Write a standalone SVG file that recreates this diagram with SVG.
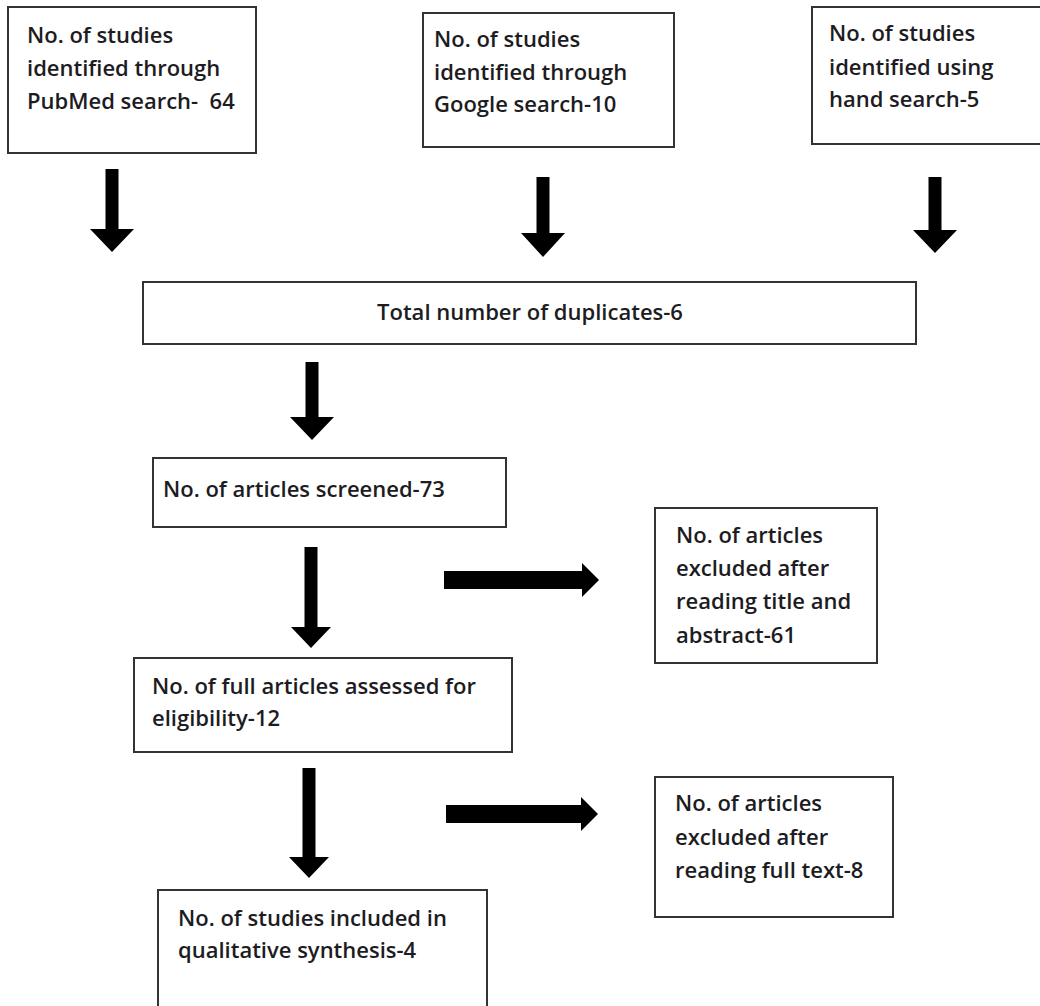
<svg xmlns="http://www.w3.org/2000/svg" width="1040" height="1006" viewBox="0 0 1040 1006">
<style>
.box{fill:#ffffff;stroke:#333333;stroke-width:2}
.t{font-family:"Open Sans","Liberation Sans",sans-serif;font-size:22px;font-weight:600;fill:#1c1c22}
.arrow{fill:#000000}
</style>
<rect x="0" y="0" width="1040" height="1006" fill="#ffffff"/>
<g id="pubmed">
<rect class="box" x="8" y="7" width="248" height="146"/>
<text class="t" x="27" y="43">No. of studies</text>
<text class="t" x="27" y="76">identified through</text>
<text class="t" x="27" y="109">PubMed search-&#160; 64</text>
</g>
<g id="google">
<rect class="box" x="423" y="13" width="251" height="134"/>
<text class="t" x="434" y="47">No. of studies</text>
<text class="t" x="434" y="80">identified through</text>
<text class="t" x="434" y="112">Google search-10</text>
</g>
<g id="hand">
<rect class="box" x="812" y="7" width="240" height="137"/>
<text class="t" x="829" y="41">No. of studies</text>
<text class="t" x="829" y="75">identified using</text>
<text class="t" x="829" y="107">hand search-5</text>
</g>
<g id="duplicates">
<rect class="box" x="143" y="282" width="773" height="62"/>
<text class="t" x="530" y="320" text-anchor="middle">Total number of duplicates-6</text>
</g>
<g id="screened">
<rect class="box" x="153" y="458" width="353" height="69"/>
<text class="t" x="163" y="497">No. of articles screened-73</text>
</g>
<g id="excluded-abstract">
<rect class="box" x="655" y="508" width="222" height="155"/>
<text class="t" x="676" y="543">No. of articles</text>
<text class="t" x="676" y="576">excluded after</text>
<text class="t" x="676" y="609">reading title and</text>
<text class="t" x="676" y="643">abstract-61</text>
</g>
<g id="full-articles">
<rect class="box" x="134" y="658" width="378" height="94"/>
<text class="t" x="152" y="694">No. of full articles assessed for</text>
<text class="t" x="152" y="726">eligibility-12</text>
</g>
<g id="excluded-fulltext">
<rect class="box" x="655" y="777" width="238" height="140"/>
<text class="t" x="675" y="811">No. of articles</text>
<text class="t" x="675" y="845">excluded after</text>
<text class="t" x="675" y="878">reading full text-8</text>
</g>
<g id="included">
<rect class="box" x="158" y="890" width="329" height="130"/>
<text class="t" x="178" y="926">No. of studies included in</text>
<text class="t" x="178" y="958">qualitative synthesis-4</text>
</g>
<g id="connectors">
<polygon class="arrow" points="105.5,169 118.5,169 118.5,229 134,229 112,252 90,229 105.5,229"/>
<polygon class="arrow" points="536.5,177 549.5,177 549.5,233 565,233 543,257 521,233 536.5,233"/>
<polygon class="arrow" points="928.5,177 941.5,177 941.5,230 957,230 935,253 913,230 928.5,230"/>
<polygon class="arrow" points="305.5,362 318.5,362 318.5,417 334,417 312,440 290,417 305.5,417"/>
<polygon class="arrow" points="304.5,547 317.5,547 317.5,627 331,627 311,648 291,627 304.5,627"/>
<polygon class="arrow" points="302.5,768 315.5,768 315.5,857 329,857 309,878 289,857 302.5,857"/>
<polygon class="arrow" points="444,571 582,571 582,563 599,580 582,597 582,589 444,589"/>
<polygon class="arrow" points="446,805 581,805 581,797 598,814 581,831 581,823 446,823"/>
</g>
</svg>
